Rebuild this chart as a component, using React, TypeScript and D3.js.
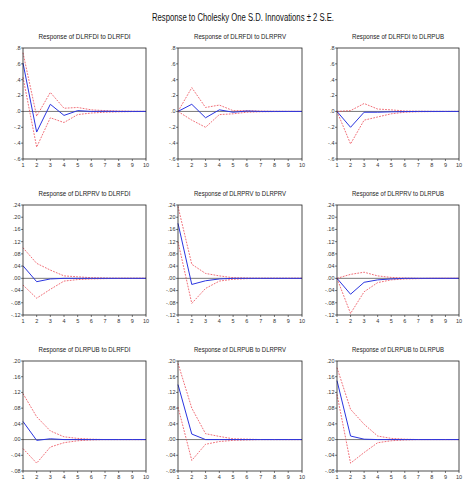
import * as d3 from 'd3';

const steps = [1, 2, 3, 4, 5, 6, 7, 8, 9, 10];

const panelTitles = [
  'Response of DLRFDI to DLRFDI', 'Response of DLRFDI to DLRPRV', 'Response of DLRFDI to DLRPUB',
  'Response of DLRPRV to DLRFDI', 'Response of DLRPRV to DLRPRV', 'Response of DLRPRV to DLRPUB',
  'Response of DLRPUB to DLRFDI', 'Response of DLRPUB to DLRPRV', 'Response of DLRPUB to DLRPUB',
];

// y ticks per row
const rowTicks = [
  [-0.6, -0.4, -0.2, 0, 0.2, 0.4, 0.6, 0.8],
  [-0.12, -0.08, -0.04, 0, 0.04, 0.08, 0.12, 0.16, 0.2, 0.24],
  [-0.08, -0.04, 0, 0.04, 0.08, 0.12, 0.16, 0.2],
];
const rowDecimals = [1, 2, 2];

// impulse responses (blue)
const response = [
  [0.61, -0.26, 0.09, -0.05, 0.01, 0.0, 0.002, 0.0, 0.0, 0.0],
  [0.0, 0.09, -0.08, 0.02, -0.01, 0.005, 0.0, 0.0, 0.0, 0.0],
  [0.0, -0.2, -0.01, -0.01, -0.005, -0.002, 0.0, 0.0, 0.0, 0.0],
  [0.041, -0.011, -0.002, 0.0, 0.0, 0.0, 0.0, 0.0, 0.0, 0.0],
  [0.18, -0.02, -0.008, -0.002, 0.0, 0.0, 0.0, 0.0, 0.0, 0.0],
  [0.0, -0.052, -0.013, -0.005, -0.002, 0.0, 0.0, 0.0, 0.0, 0.0],
  [0.046, -0.002, 0.002, 0.0, 0.0, 0.0, 0.0, 0.0, 0.0, 0.0],
  [0.14, 0.014, 0.0, 0.0, 0.0, 0.0, 0.0, 0.0, 0.0, 0.0],
  [0.15, 0.009, 0.001, 0.0, 0.0, 0.0, 0.0, 0.0, 0.0, 0.0],
];

// +2 S.E. band
const upper = [
  [0.74, -0.06, 0.24, 0.04, 0.05, 0.02, 0.01, 0.005, 0.002, 0.001],
  [0.0, 0.3, 0.05, 0.08, 0.01, 0.01, 0.004, 0.002, 0.001, 0.0],
  [0.0, 0.01, 0.1, 0.03, 0.02, 0.005, 0.002, 0.001, 0.0, 0.0],
  [0.1, 0.049, 0.027, 0.008, 0.005, 0.002, 0.001, 0.0, 0.0, 0.0],
  [0.235, 0.046, 0.016, 0.008, 0.002, 0.001, 0.0, 0.0, 0.0, 0.0],
  [0.0, 0.013, 0.02, 0.008, 0.003, 0.001, 0.0, 0.0, 0.0, 0.0],
  [0.117, 0.058, 0.022, 0.007, 0.003, 0.001, 0.0, 0.0, 0.0, 0.0],
  [0.194, 0.08, 0.015, 0.008, 0.002, 0.001, 0.0, 0.0, 0.0, 0.0],
  [0.183, 0.077, 0.039, 0.009, 0.003, 0.001, 0.0, 0.0, 0.0, 0.0],
];

// -2 S.E. band
const lower = [
  [0.43, -0.45, -0.08, -0.14, -0.04, -0.02, -0.01, -0.005, -0.002, -0.001],
  [0.0, -0.11, -0.2, -0.04, -0.03, -0.01, -0.004, -0.002, -0.001, 0.0],
  [0.0, -0.41, -0.11, -0.07, -0.03, -0.01, -0.004, -0.002, -0.001, 0.0],
  [-0.022, -0.065, -0.036, -0.009, -0.004, -0.002, -0.001, 0.0, 0.0, 0.0],
  [0.12, -0.082, -0.033, -0.009, -0.003, -0.001, 0.0, 0.0, 0.0, 0.0],
  [0.0, -0.115, -0.044, -0.014, -0.005, -0.002, -0.001, 0.0, 0.0, 0.0],
  [-0.023, -0.06, -0.019, -0.008, -0.003, -0.001, 0.0, 0.0, 0.0, 0.0],
  [0.083, -0.053, -0.012, -0.005, -0.002, -0.001, 0.0, 0.0, 0.0, 0.0],
  [0.115, -0.06, -0.033, -0.008, -0.003, -0.001, 0.0, 0.0, 0.0, 0.0],
];

const colX = [[23, 146], [178, 302], [337, 459]];
const rowY = [[48, 159], [205, 315], [361, 471]];

const FONT = '"Liberation Sans", Arial, sans-serif';

function fmtTick(v: number, dec: number) {
  const s = v.toFixed(dec);
  return s.replace(/^(-?)0\./, '$1.');
}

function Panel({ idx }: { idx: number }) {
  const row = Math.floor(idx / 3);
  const col = idx % 3;
  const ticks = rowTicks[row];
  const [x0, x1] = colX[col];
  const [y0, y1] = rowY[row];
  const x = d3.scaleLinear().domain([1, 10]).range([x0, x1]);
  const y = d3.scaleLinear().domain([ticks[0], ticks[ticks.length - 1]]).range([y1, y0]);
  const line = d3.line<number>().x((_, i) => x(steps[i])).y(d => y(d));

  return (
    <g>
      <text x={(x0 + x1) / 2} y={y0 - 9} textAnchor="middle" fontSize={7.6} fontFamily={FONT} fill="#222"
        textLength={92} lengthAdjust="spacingAndGlyphs">
        {panelTitles[idx]}
      </text>
      <line x1={x0} x2={x1} y1={y(0)} y2={y(0)} stroke="#555" strokeWidth={0.8} />
      <path d={line(upper[idx]) || ''} fill="none" stroke="#ec4a55" strokeWidth={0.8} strokeDasharray="1.8,1.2" />
      <path d={line(lower[idx]) || ''} fill="none" stroke="#ec4a55" strokeWidth={0.8} strokeDasharray="1.8,1.2" />
      <path d={line(response[idx]) || ''} fill="none" stroke="#2a35e0" strokeWidth={1} />
      <rect x={x0} y={y0} width={x1 - x0} height={y1 - y0} fill="none" stroke="#222" strokeWidth={0.8} />
      {ticks.map(t => (
        <g key={t}>
          <line x1={x0 - 2} x2={x0} y1={y(t)} y2={y(t)} stroke="#222" strokeWidth={0.6} />
          <text x={x0 - 2.5} y={y(t)} dy="0.35em" textAnchor="end" fontSize={5.5} fontFamily={FONT} fill="#333">
            {fmtTick(t, rowDecimals[row])}
          </text>
        </g>
      ))}
      {steps.map(s => (
        <g key={s}>
          <line x1={x(s)} x2={x(s)} y1={y1} y2={y1 + 2} stroke="#222" strokeWidth={0.6} />
          <text x={x(s)} y={y1 + 8} textAnchor="middle" fontSize={5.5} fontFamily={FONT} fill="#333">
            {s}
          </text>
        </g>
      ))}
    </g>
  );
}

export default function App() {
  return (
    <svg width={474} height={494} style={{ position: 'absolute', left: 0, top: 0, background: '#fff' }}>
      <rect width={474} height={494} fill="#fff" />
      <text x={243} y={21} textAnchor="middle" fontSize={10} fontFamily={FONT} fill="#111"
        textLength={182} lengthAdjust="spacingAndGlyphs">
        Response to Cholesky One S.D. Innovations ± 2 S.E.
      </text>
      {panelTitles.map((_, i) => <Panel key={i} idx={i} />)}
    </svg>
  );
}
